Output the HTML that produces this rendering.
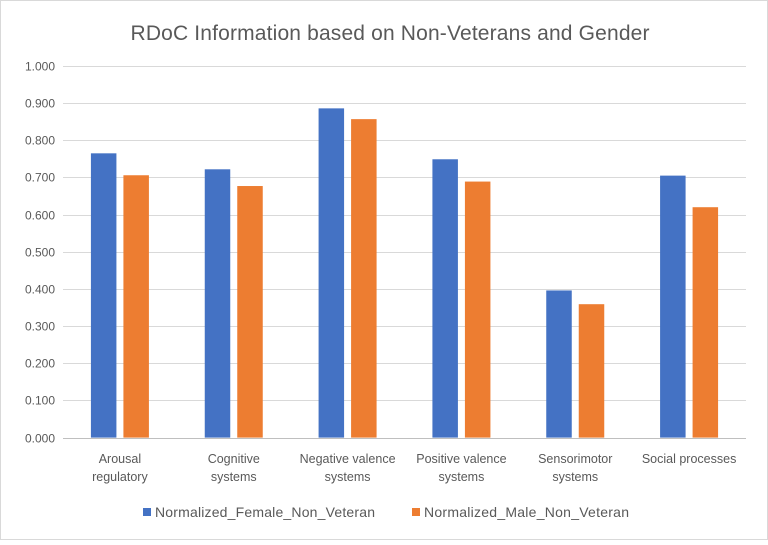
<!DOCTYPE html>
<html><head><meta charset="utf-8"><style>
body{margin:0;background:#fff;font-family:"Liberation Sans",sans-serif}
#wrap{position:relative;width:768px;height:540px}
</style></head><body>
<div id="wrap">
<svg id="c" width="768" height="540">
<rect x="0.5" y="0.5" width="767" height="539" fill="#fff" stroke="#d9d9d9"/>
<text x="390" y="40" text-anchor="middle" font-size="21" textLength="519" fill="#595959">RDoC Information based on Non-Veterans and Gender</text>
</svg>
</div>
<script>
const categories=[["Arousal","regulatory"],["Cognitive","systems"],["Negative valence","systems"],["Positive valence","systems"],["Sensorimotor","systems"],["Social processes"]];
const femaleValues=[0.765,0.722,0.886,0.749,0.396,0.705];
const maleValues=[0.706,0.677,0.857,0.689,0.359,0.620];
const tickLabels=["0.000","0.100","0.200","0.300","0.400","0.500","0.600","0.700","0.800","0.900","1.000"];
const seriesNames=["Normalized_Female_Non_Veteran","Normalized_Male_Non_Veteran"];
const svg=document.getElementById('c');const NS='http://www.w3.org/2000/svg';
const x0=63,x1=746,y0=437.6,y1=66;
const y=v=>y0-(v/1)*(y0-y1);
const bw=(x1-x0)/categories.length;
function el(t,a,txt){const e=document.createElementNS(NS,t);for(const k in a)e.setAttribute(k,a[k]);if(txt!==undefined)e.textContent=txt;svg.appendChild(e);return e;}
tickLabels.forEach((t,i)=>{const v=parseFloat(t);const yy=Math.round(y(v))+0.5;
const g=el('line',{x1:x0,x2:x1,y1:yy,y2:yy,stroke:i===0?'#bfbfbf':'#d9d9d9','stroke-width':1});


const l=el('text',{x:55,y:yy+4,'text-anchor':'end','font-size':12,fill:'#595959'},t);

});
categories.forEach((c,i)=>{const cx=x0+bw*(i+0.5);
const f=el('rect',{x:cx-29,y:y(femaleValues[i]),width:25.5,height:y0-y(femaleValues[i]),fill:'#4472c4'});


const m=el('rect',{x:cx+3.5,y:y(maleValues[i]),width:25.5,height:y0-y(maleValues[i]),fill:'#ed7d31'});


c.forEach((line,j)=>{const t=el('text',{x:cx,y:463+j*18,'text-anchor':'middle','font-size':12.5,fill:'#595959'},line);

});});
const cols=['#4472c4','#ed7d31'],lx=[143,412],lw=[220,205];
seriesNames.forEach((s,i)=>{const r=el('rect',{x:lx[i],y:508,width:8,height:8,fill:cols[i]});


const t=el('text',{x:lx[i]+12,y:517,'font-size':14,fill:'#595959',textLength:lw[i]},s);

});
</script>
</body></html>
